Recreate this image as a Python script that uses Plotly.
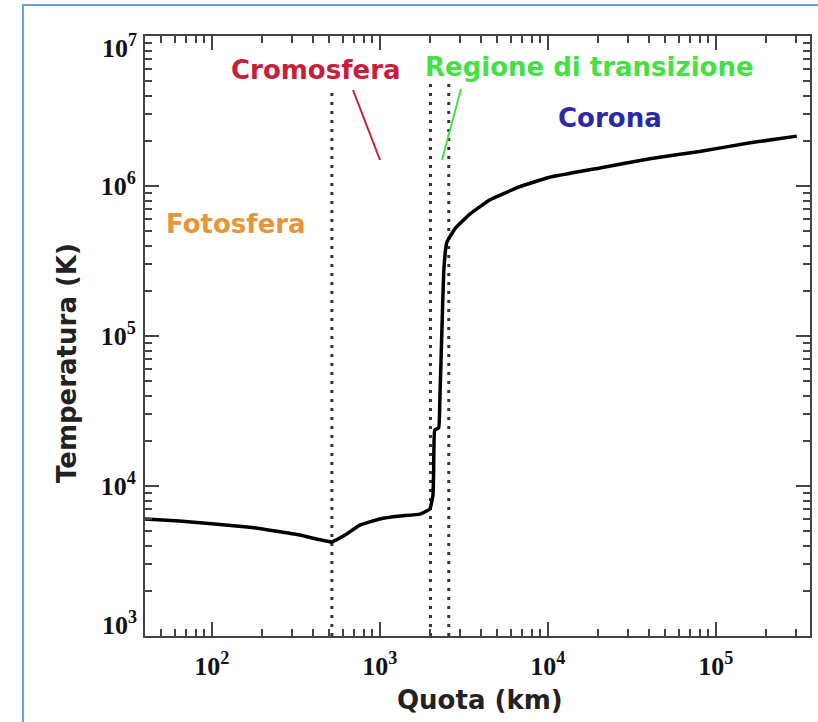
import numpy as np
import plotly.graph_objects as go

# --- data ---
quota_km = [40, 64, 168, 334, 518, 620, 760, 1000, 1315, 1730, 1986, 2070, 2090,
            2120, 2240, 2275, 2340, 2400, 2500, 2800, 3430, 4520, 6810, 10100,
            20400, 40500, 80000, 160000, 303000]
temperatura_K = [6030, 5840, 5310, 4710, 4240, 4710, 5490, 6030, 6310, 6500, 7030,
                 8720, 12800, 23600, 24400, 37500, 1.1e5, 2.72e5, 4.2e5, 5.2e5,
                 6.5e5, 8.1e5, 9.9e5, 1.14e6, 1.32e6, 1.52e6, 1.7e6, 1.94e6, 2.15e6]

confini_km = [518, 2000, 2570]          # region boundaries (dotted lines)
confini_top_K = [4.3e6, 4.9e6, 4.9e6]

major_x = [1e2, 1e3, 1e4, 1e5]
major_x_text = ["10<sup>2</sup>", "10<sup>3</sup>", "10<sup>4</sup>", "10<sup>5</sup>"]
major_y = [1e3, 1e4, 1e5, 1e6, 1e7]
major_y_text = ["", "10<sup>4</sup>", "10<sup>5</sup>", "10<sup>6</sup>", ""]
edge_y_text = ["10<sup>3</sup>", "10<sup>7</sup>"]   # end labels, drawn nudged inward

regioni = ["Fotosfera", "Cromosfera", "Regione di transizione", "Corona"]
colori = ["#e8943a", "#c81e3c", "#44e044", "#2a2aa8"]

minor_x = [m * 10 ** e for e in range(1, 6) for m in range(2, 10)]
minor_y = [m * 10 ** e for e in range(3, 7) for m in range(2, 10)]

fig = go.Figure()
for xv, top in zip(confini_km, confini_top_K):
    fig.add_trace(go.Scatter(x=[xv, xv], y=[1e3, top], mode="lines",
                             line=dict(color="#333333", width=3, dash="3px,6px"),
                             hoverinfo="skip", showlegend=False))
fig.add_trace(go.Scatter(x=quota_km, y=temperatura_K, mode="lines",
                         line=dict(color="black", width=3.5, shape="spline", smoothing=0.3),
                         showlegend=False))

# plot area in pixels: x 145..810, y 36..636
L, R, T, B = 145, 810, 36, 636
W, H = 818, 722
def px(xp): return (xp - L) / (R - L)
def py(yp): return (B - yp) / (B - T)

lab_font = dict(family="DejaVu Sans", size=26, weight="bold")
pos = [(236, 224), (316, 70), (589, 67), (610, 118)]
for name, col, (xx, yy) in zip(regioni, colori, pos):
    fig.add_annotation(text=name, x=px(xx), y=py(yy), xref="paper", yref="paper",
                       xanchor="center", yanchor="middle",
                       showarrow=False, font=dict(color=col, **lab_font))

fig.add_shape(type="line", xref="paper", yref="paper", x0=px(353), y0=py(90),
              x1=px(380), y1=py(160), line=dict(color="#c81e3c", width=2))
fig.add_shape(type="line", xref="paper", yref="paper", x0=px(461), y0=py(89),
              x1=px(442), y1=py(160), line=dict(color="#44e044", width=2))

tick_font = dict(family="Liberation Serif", size=26, weight="bold", color="#111")

# end tick labels of y axis (nudged inside the figure like the reference)
for txt, yy in zip(edge_y_text, [623, 46]):
    fig.add_annotation(text=txt, x=px(139), y=py(yy), xref="paper", yref="paper",
                       xanchor="right", yanchor="middle", showarrow=False, font=tick_font)

# axis titles
fig.add_annotation(text="Quota (km)", x=px(480), y=py(700), xref="paper", yref="paper",
                   xanchor="center", yanchor="middle",
                   showarrow=False, font=dict(family="DejaVu Sans", size=26, weight="bold", color="#222"))
fig.add_annotation(text="Temperatura (K)", x=px(67), y=py(363), xref="paper", yref="paper",
                   xanchor="center", yanchor="middle",
                   showarrow=False, textangle=-90,
                   font=dict(family="DejaVu Sans", size=26, weight="bold", color="#222"))

# outer light blue frame
fig.add_shape(type="rect", xref="paper", yref="paper", x0=px(23), y0=py(5),
              x1=px(840), y1=py(740), line=dict(color="#6a9fdc", width=2))

axis_common = dict(type="log", showgrid=False, zeroline=False, showline=True,
                   linecolor="#444", linewidth=2, mirror="ticks", ticks="inside",
                   ticklen=14, tickwidth=2, tickcolor="#444", tickfont=tick_font,
                   automargin=False)
fig.update_xaxes(range=[np.log10(40), 5.56], tickmode="array", tickvals=major_x,
                 ticktext=major_x_text, ticklabelstandoff=6,
                 minor=dict(tickmode="array", tickvals=minor_x, ticks="inside",
                            ticklen=7, tickwidth=2, tickcolor="#444"),
                 **axis_common)
fig.update_yaxes(range=[3, 7], tickmode="array", tickvals=major_y,
                 ticktext=major_y_text, ticklabelstandoff=2,
                 minor=dict(tickmode="array", tickvals=minor_y, ticks="inside",
                            ticklen=7, tickwidth=2, tickcolor="#444"),
                 **axis_common)

fig.update_layout(width=W, height=H, margin=dict(l=L, r=W - R, t=T, b=H - B, autoexpand=False),
                  plot_bgcolor="white", paper_bgcolor="white")
fig.write_html("out.html", config={"displayModeBar": False},
               post_script="document.body.style.margin='0px';document.body.style.overflow='hidden';")
